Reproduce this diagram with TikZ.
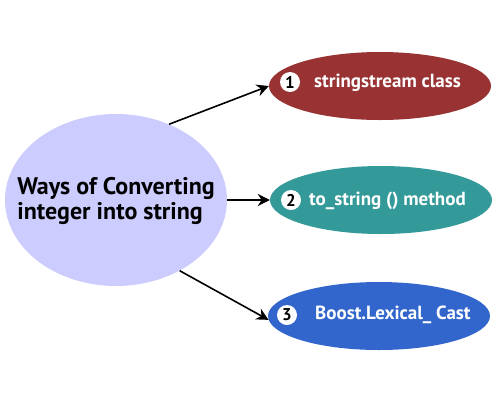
\documentclass[tikz,border=0pt]{standalone}
\usepackage{fontspec}
\setmainfont{PT Sans}
\usetikzlibrary{shapes.geometric, arrows.meta, positioning}

\definecolor{lavender}{HTML}{CCCCFF}
\definecolor{wine}{HTML}{993333}
\definecolor{teal2}{HTML}{339999}
\definecolor{royal}{HTML}{3366CC}

\begin{document}
\begin{tikzpicture}[x=1pt, y=-1pt,
    way/.style={ellipse, minimum width=222pt, minimum height=68pt, inner sep=0pt},
    num/.style={circle, fill=white, inner sep=0pt, minimum size=20pt,
        font=\fontsize{17}{19}\selectfont\bfseries},
    label/.style={anchor=base west, inner sep=0pt, text=white,
        font=\fontsize{19}{21}\selectfont\bfseries},
    link/.style={line width=1.6pt, -{Stealth[length=12pt, width=12pt]}}]
    \useasboundingbox (0,0) rectangle (500,400);
    \node[ellipse, fill=lavender, minimum width=222pt, minimum height=172pt, inner sep=0pt] (main) at (116,200) {};
    \node[align=left, inner sep=0pt, font=\fontsize{24}{25}\selectfont\bfseries] (title) at (116,201)
        {Ways of Converting\\integer into string};
    % the three ways
    \node[way, fill=wine] (sstream) at (380,86) {};
    \node[way, fill=teal2] (tostr) at (381,200) {};
    \node[way, fill=royal] (boost) at (379,316) {};
    \node[num] (n1) at (290,82) {1};
    \node[num] (n2) at (291,200) {2};
    \node[num] (n3) at (287,315) {3};
    \node[label] (t1) at (314,87) {stringstream class};
    \node[label] (t2) at (309,205) {to\_string () method};
    \node[label] (t3) at (315,319) {Boost.Lexical\_ Cast};
    \draw[link] (main.55) -- (sstream.west);
    \draw[link] (main.east) -- (tostr.west);
    \draw[link] (main.-48) -- (boost.182);
\end{tikzpicture}
\end{document}
